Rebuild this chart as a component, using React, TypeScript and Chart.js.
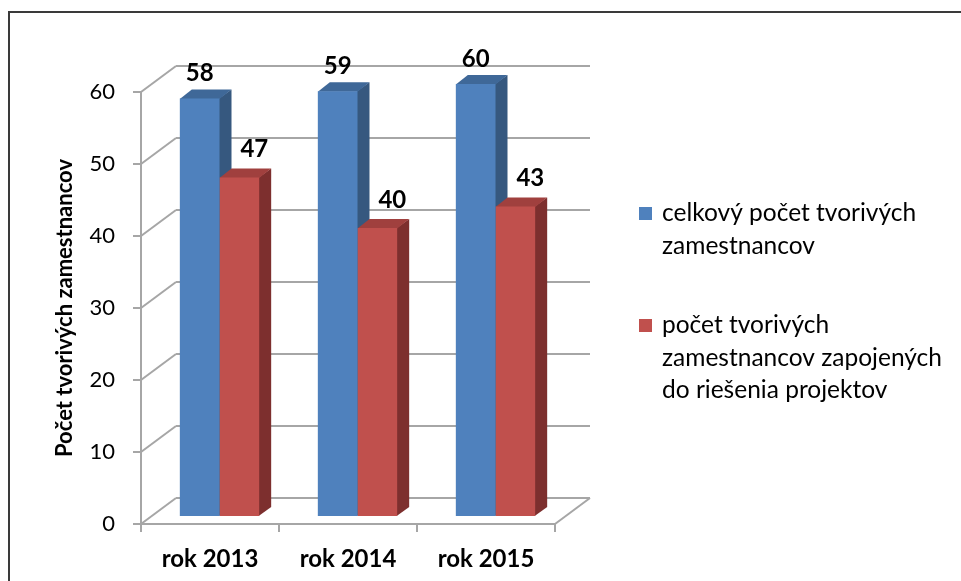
import React, { useEffect, useRef } from 'react';
import { Chart, registerables } from 'chart.js';

Chart.register(...registerables);

// ---- data ----
const categories = ['rok 2013', 'rok 2014', 'rok 2015'];
const totalStaff = [58, 59, 60];
const projectStaff = [47, 40, 43];
const seriesTotalLines = ['celkový počet tvorivých', 'zamestnancov'];
const seriesProjectLines = ['počet tvorivých', 'zamestnancov zapojených', 'do riešenia projektov'];
const yTickValues = [0, 10, 20, 30, 40, 50, 60];
const yAxisTitle = 'Počet tvorivých zamestnancov';

// ---- style ----
const FONT = 'Lato';
const FRONT = ['#4f81bd', '#c0504d'];
const TOP = ['#3f6898', '#a0403e'];
const SIDE = ['#36587f', '#7d2f2e'];
const GRID = '#a6a6a6';
const WALL_DEPTH = { x: 35, y: -26 };
const BAR_SHIFT = { x: 9.5, y: -8 };
const BAR_DEPTH = { x: 12, y: -9 };
const LABEL_OFFSET = [{ x: 0, y: -25 }, { x: 15, y: -28 }];

const legendLines = [seriesTotalLines, seriesProjectLines];

const fake3d = {
  id: 'fake3d',
  beforeDraw(chart: any) {
    const { ctx, width, height } = chart;
    ctx.save();
    ctx.fillStyle = '#ffffff';
    ctx.fillRect(0, 0, width, height);
    ctx.strokeStyle = '#3a3a3a';
    ctx.lineWidth = 2;
    ctx.beginPath();
    ctx.moveTo(9, height + 5);
    ctx.lineTo(9, 12);
    ctx.lineTo(width + 5, 12);
    ctx.stroke();
    ctx.restore();
  },
  beforeDatasetsDraw(chart: any) {
    const { ctx, chartArea: a, scales } = chart;
    const ys = scales.y;
    ctx.save();
    ctx.strokeStyle = GRID;
    ctx.lineWidth = 2;
    const line = (x1: number, y1: number, x2: number, y2: number) => {
      ctx.beginPath();
      ctx.moveTo(x1, y1);
      ctx.lineTo(x2, y2);
      ctx.stroke();
    };
    yTickValues.forEach((v) => {
      const py = ys.getPixelForValue(v);
      line(a.left, py, a.left + WALL_DEPTH.x, py + WALL_DEPTH.y);
      line(a.left + WALL_DEPTH.x, py + WALL_DEPTH.y, a.right + WALL_DEPTH.x, py + WALL_DEPTH.y);
      line(a.left - 8, py, a.left, py);
    });
    const y0 = ys.getPixelForValue(0);
    const yTop = ys.getPixelForValue(yTickValues[yTickValues.length - 1]);
    line(a.left, y0, a.left, yTop);
    line(a.left, y0, a.right, y0);
    line(a.right, y0, a.right + WALL_DEPTH.x, y0 + WALL_DEPTH.y);
    const n = categories.length;
    for (let i = 0; i <= n; i++) {
      const x = a.left + (i * (a.right - a.left)) / n;
      line(x, y0, x, y0 + 8);
    }
    ctx.restore();

    ctx.save();
    ctx.translate(BAR_SHIFT.x, BAR_SHIFT.y);
    chart.data.datasets.forEach((_ds: any, di: number) => {
      const meta = chart.getDatasetMeta(di);
      meta.data.forEach((el: any) => {
        const { x, y, base, width } = el.getProps(['x', 'y', 'base', 'width'], true);
        const l = x - width / 2;
        const r = x + width / 2;
        ctx.fillStyle = SIDE[di];
        ctx.beginPath();
        ctx.moveTo(r - 0.5, y);
        ctx.lineTo(r + BAR_DEPTH.x, y + BAR_DEPTH.y);
        ctx.lineTo(r + BAR_DEPTH.x, base + BAR_DEPTH.y);
        ctx.lineTo(r - 0.5, base);
        ctx.closePath();
        ctx.fill();
        ctx.fillStyle = TOP[di];
        ctx.beginPath();
        ctx.moveTo(l, y + 0.5);
        ctx.lineTo(l + BAR_DEPTH.x, y + BAR_DEPTH.y);
        ctx.lineTo(r + BAR_DEPTH.x, y + BAR_DEPTH.y);
        ctx.lineTo(r, y + 0.5);
        ctx.closePath();
        ctx.fill();
      });
    });
  },
  afterDatasetsDraw(chart: any) {
    const { ctx } = chart;
    ctx.restore();
    ctx.save();
    ctx.fillStyle = '#000000';
    ctx.font = `bold 24px ${FONT}`;
    ctx.textAlign = 'center';
    ctx.textBaseline = 'middle';
    chart.data.datasets.forEach((ds: any, di: number) => {
      const meta = chart.getDatasetMeta(di);
      meta.data.forEach((el: any, i: number) => {
        const { x, y } = el.getProps(['x', 'y'], true);
        ctx.fillText(
          String(ds.data[i]),
          x + BAR_SHIFT.x + LABEL_OFFSET[di].x,
          y + BAR_SHIFT.y + LABEL_OFFSET[di].y
        );
      });
    });
    ctx.restore();
  },
  afterDraw(chart: any) {
    const { ctx } = chart;
    ctx.save();
    ctx.font = `24.5px ${FONT}`;
    ctx.textAlign = 'left';
    ctx.textBaseline = 'alphabetic';
    const lineH = 32.5;
    let baseline = 221;
    legendLines.forEach((lines, di) => {
      ctx.fillStyle = FRONT[di];
      ctx.fillRect(639, baseline - 14, 13, 13);
      ctx.fillStyle = '#000000';
      lines.forEach((t, li) => {
        ctx.fillText(t, 662, baseline + li * lineH);
      });
      baseline += lines.length * lineH + 47;
    });
    ctx.restore();
  },
};

export default function App() {
  const ref = useRef<HTMLCanvasElement | null>(null);
  useEffect(() => {
    if (!ref.current) return;
    const chart = new Chart(ref.current, {
      type: 'bar',
      data: {
        labels: categories,
        datasets: [
          {
            label: seriesTotalLines.join(' '),
            data: totalStaff,
            backgroundColor: FRONT[0],
            borderWidth: 0,
            barPercentage: 1,
            categoryPercentage: 0.575,
            clip: false as any,
          },
          {
            label: seriesProjectLines.join(' '),
            data: projectStaff,
            backgroundColor: FRONT[1],
            borderWidth: 0,
            barPercentage: 1,
            categoryPercentage: 0.575,
            clip: false as any,
          },
        ],
      },
      options: {
        responsive: false,
        animation: false,
        layout: { padding: { left: 0, top: 92, right: 406, bottom: 0 } },
        plugins: { legend: { display: false }, tooltip: { enabled: false } },
        scales: {
          x: {
            grid: { display: false, drawTicks: false },
            border: { display: false },
            ticks: { color: '#000', padding: 21, font: { family: FONT, size: 24, weight: 'bold' } },
            afterFit: (s: any) => {
              s.height = 57;
            },
          },
          y: {
            min: 0,
            max: 60,
            grid: { display: false, drawTicks: false },
            border: { display: false },
            ticks: { stepSize: 10, color: '#000', padding: 26, font: { family: FONT, size: 22 } },
            title: {
              display: true,
              text: yAxisTitle,
              color: '#000',
              font: { family: FONT, size: 22, weight: 'bold' },
              padding: { top: 52, bottom: 0 },
            },
            afterFit: (s: any) => {
              s.width = 141;
            },
          },
        },
      },
      plugins: [fake3d],
    });
    return () => chart.destroy();
  }, []);
  return (
    <div style={{ position: 'fixed', left: 0, top: 0, width: 961, height: 581 }}>
      <canvas ref={ref} width={961} height={581} style={{ display: 'block' }} />
    </div>
  );
}
